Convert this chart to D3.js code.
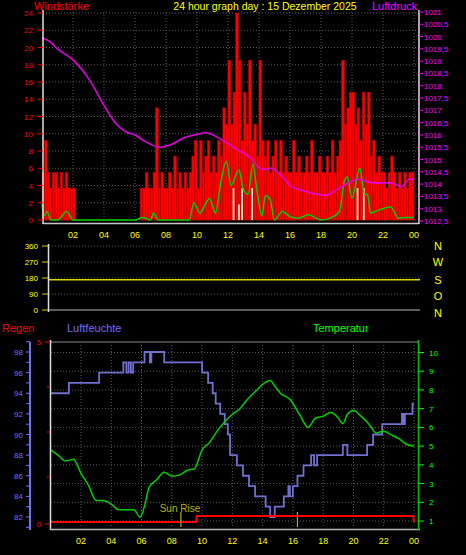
<!DOCTYPE html>
<html><head><meta charset="utf-8">
<script src="https://cdn.jsdelivr.net/npm/d3@7"></script>
<style>body{margin:0;background:#000;}svg{display:block;font-family:"Liberation Sans",Arial,sans-serif;}</style>
</head><body><svg id="c" width="466" height="555"></svg>
<script>
// ---- data ----
const hourTicks = ["02","04","06","08","10","12","14","16","18","20","22","00"];
const windGust = [
5.5,9.2,5.5,3.7,5.5,5.5, 3.7,5.5,3.7,5.5,3.7,3.7, 3.7,0,0,0,0,0, 0,0,0,0,0,0,
0,0,0,0,0,0, 0,0,0,0,0,0, 0,0,3.7,3.7,5.5,3.7, 3.7,5.5,13,3.7,5.5,3.7,
3.7,5.5,3.7,7.4,3.7,5.5, 3.7,5.5,3.7,5.5,7.4,9.2, 3.7,9.2,5.5,7.4,9.2,5.5, 7.4,5.5,9.2,7.4,13,11.1,
18.5,11.1,14.8,24,18.5,9.2, 14.8,11.1,18.5,9.2,11.1,7.4, 18.5,9.2,7.4,9.2,5.5,7.4, 9.2,5.5,9.2,5.5,7.4,5.5,
5.5,9.2,5.5,7.4,5.5,5.5, 7.4,5.5,9.2,5.5,5.5,7.4, 5.5,5.5,7.4,5.5,9.2,5.5, 7.4,9.2,18.5,11.1,13,14.8,
14.8,11.1,13,9.2,14.8,11.1, 14.8,7.4,9.2,5.5,7.4,5.5, 5.5,3.7,5.5,7.4,5.5,3.7, 5.5,3.7,5.5,3.7,5.5,5.5];
const windAvgT = [0,0.15,0.3,0.6,1.0,1.6,2.0,3,4,5,6,6.5,7,7.2,7.5,8,9,9.5,9.8,10.2,10.5,10.8,11.2,11.5,11.9,12.2,12.7,13,13.3,13.6,13.9,14.2,14.4,14.7,15,15.5,16,16.5,17.2,18,18.8,19.2,19.5,19.7,20,20.5,20.8,21,21.2,21.8,22.5,23,23.5,24];
const windAvg  = [1.8,0.5,1,0,0,1,0,0,0,0,0,0.3,0,0.8,0,0,0,0,2,0.8,1.7,2.5,0.8,4,6.8,4,5.8,3.5,3,6.5,3,0.5,2.8,2.5,0,1,0.4,0.2,0.6,0,0.4,1,4.5,5,2.5,6,3,3,0.8,1.2,1.5,0.2,0.3,0.3];
const otherT = [12.3,12.65,12.85,13.5,20.3,20.7];
const otherV = [3.7,1.8,3.7,3.7,3.7,3.7];
const presT = [0,0.5,1,2,3.1,4,4.6,5.5,6,6.6,7.6,8.3,9.2,10.2,10.5,11.6,12.6,13.4,14.2,14.8,16.1,17,18.3,19.2,20.4,21.3,22.5,23.2,23.7,24];
const pres  = [1019.95,1019.8,1019.5,1019.05,1018.2,1017.2,1016.6,1016.1,1016.0,1015.75,1015.5,1015.6,1015.9,1016.05,1016.1,1015.8,1015.4,1015.1,1014.6,1014.65,1013.9,1013.7,1013.55,1013.85,1014.2,1014.05,1014.05,1013.9,1014.2,1014.2];
const dirT = [0,24];
const dirV = [170,170];
const humT = [0,1.2,3.2,4.8,5.0,5.15,5.3,5.45,5.6,6.2,6.55,6.65,7.5,10,10.4,10.7,10.9,11.2,11.5,11.7,11.85,12.3,12.7,13.1,13.5,14.2,14.5,14.8,15.4,15.7,15.8,16.0,16.3,16.7,17.2,17.4,17.6,17.8,19.3,19.6,20.9,21.3,21.9,23.2,23.3,23.4,23.9,24];
const hum  = [94,95,96,97,96,97,96,97,97,98,97,98,97,96,95,94,93,92,91,90,88,87,86,85,84,83,82,83,84,85,84,85,86,87,88,87,88,88,89,88,89,90,91,92,91,92,93,93];
const tempT = [0,0.5,1,1.5,2,2.5,3,3.5,4,4.5,5,5.5,5.9,6.2,6.5,7,7.5,8,8.5,9,9.5,10,10.5,11,11.5,12,12.5,13,13.5,14,14.5,14.8,15.2,15.8,16.5,17,17.5,18,18.5,19,19.3,19.6,20,20.5,21,21.5,22,22.5,23,23.5,24];
const temp  = [4.8,4.5,4.2,4.3,3.55,2.9,2.1,2.1,1.9,1.6,1.6,1.6,1.2,1.8,2.8,3.2,3.6,3.4,3.45,3.7,3.8,4.8,5.2,5.8,6.3,6.7,7.0,7.5,7.9,8.3,8.5,8.2,7.8,7.5,6.6,6.0,6.5,6.6,6.8,6.5,6.2,6.7,6.9,6.6,6.2,5.7,5.8,5.6,5.4,5.1,5.0];
const rainT = [0,9.6,9.65,23.95,24];
const rain  = [0,0,0.17,0.17,0];
const sunT = [8.6,16.3];

// ---- drawing ----
const svg = d3.select("#c");
const grid = "#5a5a5a";
function txt(x,y,s,c,size,anchor){return svg.append("text").attr("x",x).attr("y",y).attr("fill",c).attr("font-size",size).attr("text-anchor",anchor||"start").text(s);}
function vgrid(x,y0,y1){for(let h=2;h<=24;h+=2){svg.append("line").attr("x1",x(h)).attr("x2",x(h)).attr("y1",y0).attr("y2",y1).attr("stroke",grid).attr("stroke-dasharray","1,2");}}
function hlab(x,y){hourTicks.forEach((t,i)=>txt(x((i+1)*2),y,t,"#ffff00",9,"middle"));}

txt(34,10,"Windstärke","#ff0000",11);
txt(265,10,"24 hour graph day : 15 Dezember 2025","#ffff00",10.5,"middle");
txt(372,10,"Luftdruck","#ff00ff",11);

const x1 = d3.scaleLinear().domain([0,24]).range([42,414]);
const yW = d3.scaleLinear().domain([0,24]).range([220,13]);
const yP = d3.scaleLinear().domain([1012.5,1021]).range([221,12]);
for(let v=0;v<=24;v+=2){svg.append("line").attr("x1",43).attr("x2",419).attr("y1",yW(v)).attr("y2",yW(v)).attr("stroke",grid).attr("stroke-dasharray","1,2");}
vgrid(x1,12,222);
const bw = x1(1/6)-x1(0);
svg.append("g").selectAll("rect").data(windGust).join("rect")
 .attr("x",(d,i)=>x1(i/6)).attr("width",bw).attr("y",d=>yW(d)).attr("height",d=>yW(0)-yW(d))
 .attr("fill","#ff0000").attr("stroke","#c00000").attr("stroke-width",0.6);
svg.append("g").selectAll("rect").data(otherT).join("rect")
 .attr("x",d=>x1(d)).attr("width",1.8).attr("y",(d,i)=>yW(otherV[i])).attr("height",(d,i)=>yW(0)-yW(otherV[i])).attr("fill","#d8e8d0");
svg.append("path").datum(windAvgT).attr("fill","none").attr("stroke","#00d000").attr("stroke-width",1.5)
 .attr("d",d3.line().x(d=>x1(d)).y((d,i)=>yW(windAvg[i])).curve(d3.curveMonotoneX));
svg.append("path").datum(presT).attr("fill","none").attr("stroke","#e000e0").attr("stroke-width",1.6)
 .attr("d",d3.line().x(d=>x1(d)).y((d,i)=>yP(pres[i])).curve(d3.curveMonotoneX));
svg.append("line").attr("x1",43).attr("x2",43).attr("y1",10).attr("y2",224).attr("stroke","#e0e0e0").attr("stroke-width",1.5);
svg.append("line").attr("x1",43).attr("x2",419).attr("y1",223.5).attr("y2",223.5).attr("stroke","#c8c8c8").attr("stroke-width",1.5);
svg.append("line").attr("x1",419).attr("x2",419).attr("y1",10).attr("y2",224).attr("stroke","#f0d0f0").attr("stroke-width",1.5);
for(let v=0;v<=24;v+=2){txt(33,yW(v)+3,String(v),"#ff0000",8,"end");svg.append("line").attr("x1",38).attr("x2",43).attr("y1",yW(v)).attr("y2",yW(v)).attr("stroke","#ff0000");}
for(let v=1012.5;v<=1021.001;v+=0.5){txt(424,yP(v)+3,String(v).replace(".",","),"#ff00ff",8);svg.append("line").attr("x1",419).attr("x2",423).attr("y1",yP(v)).attr("y2",yP(v)).attr("stroke","#ff00ff");}
hlab(x1,238);

const x2 = d3.scaleLinear().domain([0,24]).range([48,420]);
const yD = d3.scaleLinear().domain([0,360]).range([310,246]);
[0,90,180,270,360].forEach(v=>{svg.append("line").attr("x1",49).attr("x2",420).attr("y1",yD(v)).attr("y2",yD(v)).attr("stroke",v==0?"#bbb":grid).attr("stroke-dasharray",v==0?null:"1,2");
 txt(38,yD(v)+3,String(v),"#ffff00",8,"end");svg.append("line").attr("x1",42).attr("x2",48).attr("y1",yD(v)).attr("y2",yD(v)).attr("stroke","#cccc00");});
svg.append("path").datum(dirT).attr("fill","none").attr("stroke","#d8d800").attr("stroke-width",1.5)
 .attr("d",d3.line().x(d=>x2(d)).y((d,i)=>yD(dirV[i])));
svg.append("line").attr("x1",48.5).attr("x2",48.5).attr("y1",244).attr("y2",312).attr("stroke","#ddd").attr("stroke-width",1.5);
["N","W","S","O","N"].forEach((s,i)=>txt(438,[250,266,284,300,317][i],s,"#ffff00",11,"middle"));

txt(2,332,"Regen","#ff0000",11);
txt(67,332,"Luftfeuchte","#7070ff",11);
txt(313,332,"Temperatur","#00ff00",11);

const x3 = d3.scaleLinear().domain([0,24]).range([50.7,414]);
const yH = d3.scaleLinear().domain([82,98]).range([517,352]);
const yT = d3.scaleLinear().domain([1,10]).range([521,352.5]);
const yR = d3.scaleLinear().domain([0,5]).range([522,342]);
for(let v=1;v<=10;v++){svg.append("line").attr("x1",51).attr("x2",418).attr("y1",yT(v)).attr("y2",yT(v)).attr("stroke",grid).attr("stroke-dasharray","1,2");}
svg.append("line").attr("x1",51).attr("x2",418).attr("y1",342).attr("y2",342).attr("stroke","#888");
vgrid(x3,342,527);
svg.append("path").datum(humT).attr("fill","none").attr("stroke","#7070d0").attr("stroke-width",1.8)
 .attr("d",d3.line().x(d=>x3(d)).y((d,i)=>yH(hum[i])).curve(d3.curveStepAfter));
svg.append("path").datum(tempT).attr("fill","none").attr("stroke","#00d000").attr("stroke-width",1.5)
 .attr("d",d3.line().x(d=>x3(d)).y((d,i)=>yT(temp[i])).curve(d3.curveMonotoneX));
svg.append("path").datum(rainT).attr("fill","none").attr("stroke","#ff0000").attr("stroke-width",2)
 .attr("d",d3.line().x(d=>x3(d)).y((d,i)=>yR(rain[i])));
sunT.forEach(t=>svg.append("line").attr("x1",x3(t)).attr("x2",x3(t)).attr("y1",512).attr("y2",527).attr("stroke","#b0b000").attr("stroke-width",1.2));
txt(180,512,"Sun Rise","#b0b000",10,"middle");
svg.append("line").attr("x1",50.5).attr("x2",50.5).attr("y1",340).attr("y2",530).attr("stroke","#ddd").attr("stroke-width",1.5);
svg.append("line").attr("x1",50).attr("x2",420).attr("y1",529.5).attr("y2",529.5).attr("stroke","#bbb").attr("stroke-width",1.5);
svg.append("line").attr("x1",418.5).attr("x2",418.5).attr("y1",340).attr("y2",530).attr("stroke","#00c000").attr("stroke-width",1.5);
svg.append("line").attr("x1",30).attr("x2",30).attr("y1",342).attr("y2",530).attr("stroke","#7070ff").attr("stroke-width",2);
for(let v=82;v<=98;v+=2){txt(23,yH(v)+3,String(v),"#7070ff",8,"end");}
for(let v=81;v<=99;v++){svg.append("line").attr("x1",26).attr("x2",30).attr("y1",yH(v)).attr("y2",yH(v)).attr("stroke","#7070ff");}
[0,5].forEach(v=>{txt(41,yR(v)+3+(v==0?2:0),String(v),"#ff0000",8,"end");svg.append("line").attr("x1",45).attr("x2",50).attr("y1",yR(v)+(v==0?2:0)).attr("y2",yR(v)+(v==0?2:0)).attr("stroke","#ff0000");});
[1.25,2.5,3.75].forEach(v=>svg.append("line").attr("x1",47).attr("x2",50).attr("y1",yR(v)).attr("y2",yR(v)).attr("stroke","#ff0000"));
for(let v=1;v<=10;v++){txt(429,yT(v)+3,String(v),"#00ff00",8);svg.append("line").attr("x1",419).attr("x2",424).attr("y1",yT(v)).attr("y2",yT(v)).attr("stroke","#00ff00");}
hlab(x3,544);
</script></body></html>
